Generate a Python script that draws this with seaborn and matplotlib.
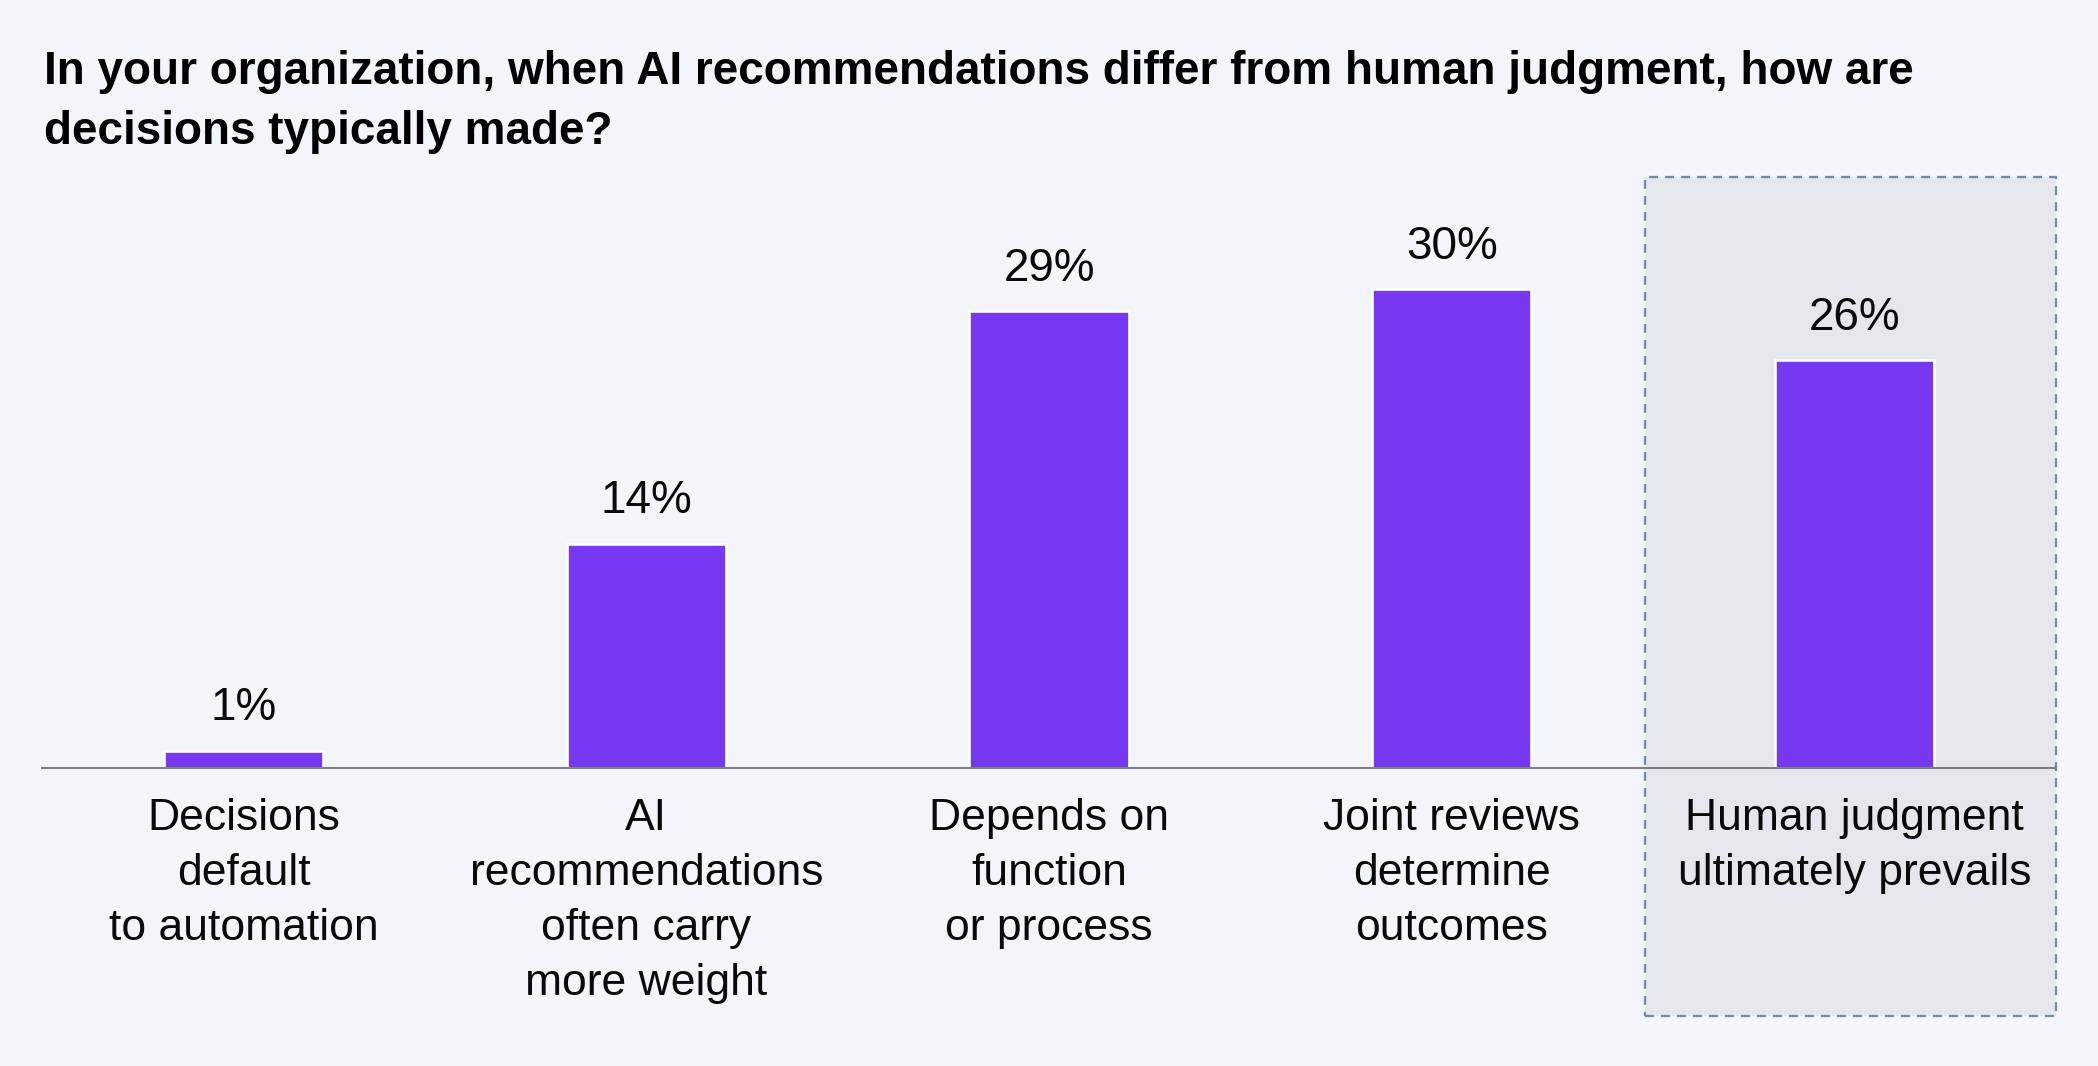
import matplotlib
matplotlib.use("Agg")
import matplotlib.pyplot as plt
import matplotlib.transforms as mtransforms
from matplotlib.patches import Rectangle
import seaborn as sns
import pandas as pd

# ---- data ----
categories = [
    "Decisions\ndefault\nto automation",
    "AI\nrecommendations\noften carry\nmore weight",
    "Depends on\nfunction\nor process",
    "Joint reviews\ndetermine\noutcomes",
    "Human judgment\nultimately prevails",
]
values = [1.1, 14.2, 28.9, 30.3, 25.8]
value_labels = ["1%", "14%", "29%", "30%", "26%"]
title_text = ("In your organization, when AI recommendations differ from human judgment, how are\n"
              "decisions typically made?")

BG = "#F2F5F9"
BAR = "#7638F0"
BOX_FILL = "#E4E7EC"
BOX_EDGE = "#7189A8"

sns.set_theme(style="white")
plt.rcParams["font.family"] = ["Liberation Sans", "DejaVu Sans"]

W, H = 2098, 1066
fig = plt.figure(figsize=(W / 100, H / 100), dpi=100, facecolor=BG)

ax_left = 42.25 / W
ax_right = 2055.75 / W
ax_bottom = 1 - 768 / H
ax_top = 1 - 177 / H
ax = fig.add_axes([ax_left, ax_bottom, ax_right - ax_left, ax_top - ax_bottom])
ax.set_facecolor("none")

df = pd.DataFrame({"category": categories, "value": values})
sns.barplot(data=df, x="category", y="value", color=BAR, saturation=1,
            width=0.395, edgecolor="white", linewidth=1.9, ax=ax, zorder=3)

ax.set_xlim(-0.5, 4.5)
ax.set_ylim(0, 37.4)

# highlight box (behind bars)
trans = mtransforms.blended_transform_factory(ax.transData, fig.transFigure)
box_bottom = 1 - 1016 / H
rect = Rectangle((3.48, box_bottom), 4.5 - 3.48, ax_top - box_bottom, transform=trans,
                 facecolor=BOX_FILL, edgecolor=BOX_EDGE, linewidth=1.6,
                 linestyle=(0, (4.0, 3.2)), clip_on=False, zorder=0)
ax.add_patch(rect)

for sp in ["top", "right", "left"]:
    ax.spines[sp].set_visible(False)
ax.spines["bottom"].set_color("#808080")
ax.spines["bottom"].set_linewidth(1.5)
ax.spines["bottom"].set_zorder(5)

ax.set_yticks([])
ax.set_xlabel("")
ax.set_ylabel("")
ax.tick_params(axis="x", length=0, pad=21.6, labelsize=32, labelcolor="#0a0a0a")
for lbl in ax.get_xticklabels():
    lbl.set_linespacing(1.44)
    lbl.set_horizontalalignment("center")
    lbl.set_zorder(6)

for i, (v, t) in enumerate(zip(values, value_labels)):
    ax.annotate(t, (i, v), xytext=(0, 21.9), textcoords="offset points",
                ha="center", va="baseline", fontsize=33, color="#0a0a0a", zorder=6)

fig.text(44 / W, 1 - 50 / H, title_text, ha="left", va="top", fontsize=33,
         fontweight="bold", color="#000000", linespacing=1.47)

fig.savefig("out.png", dpi=100, facecolor=BG)
